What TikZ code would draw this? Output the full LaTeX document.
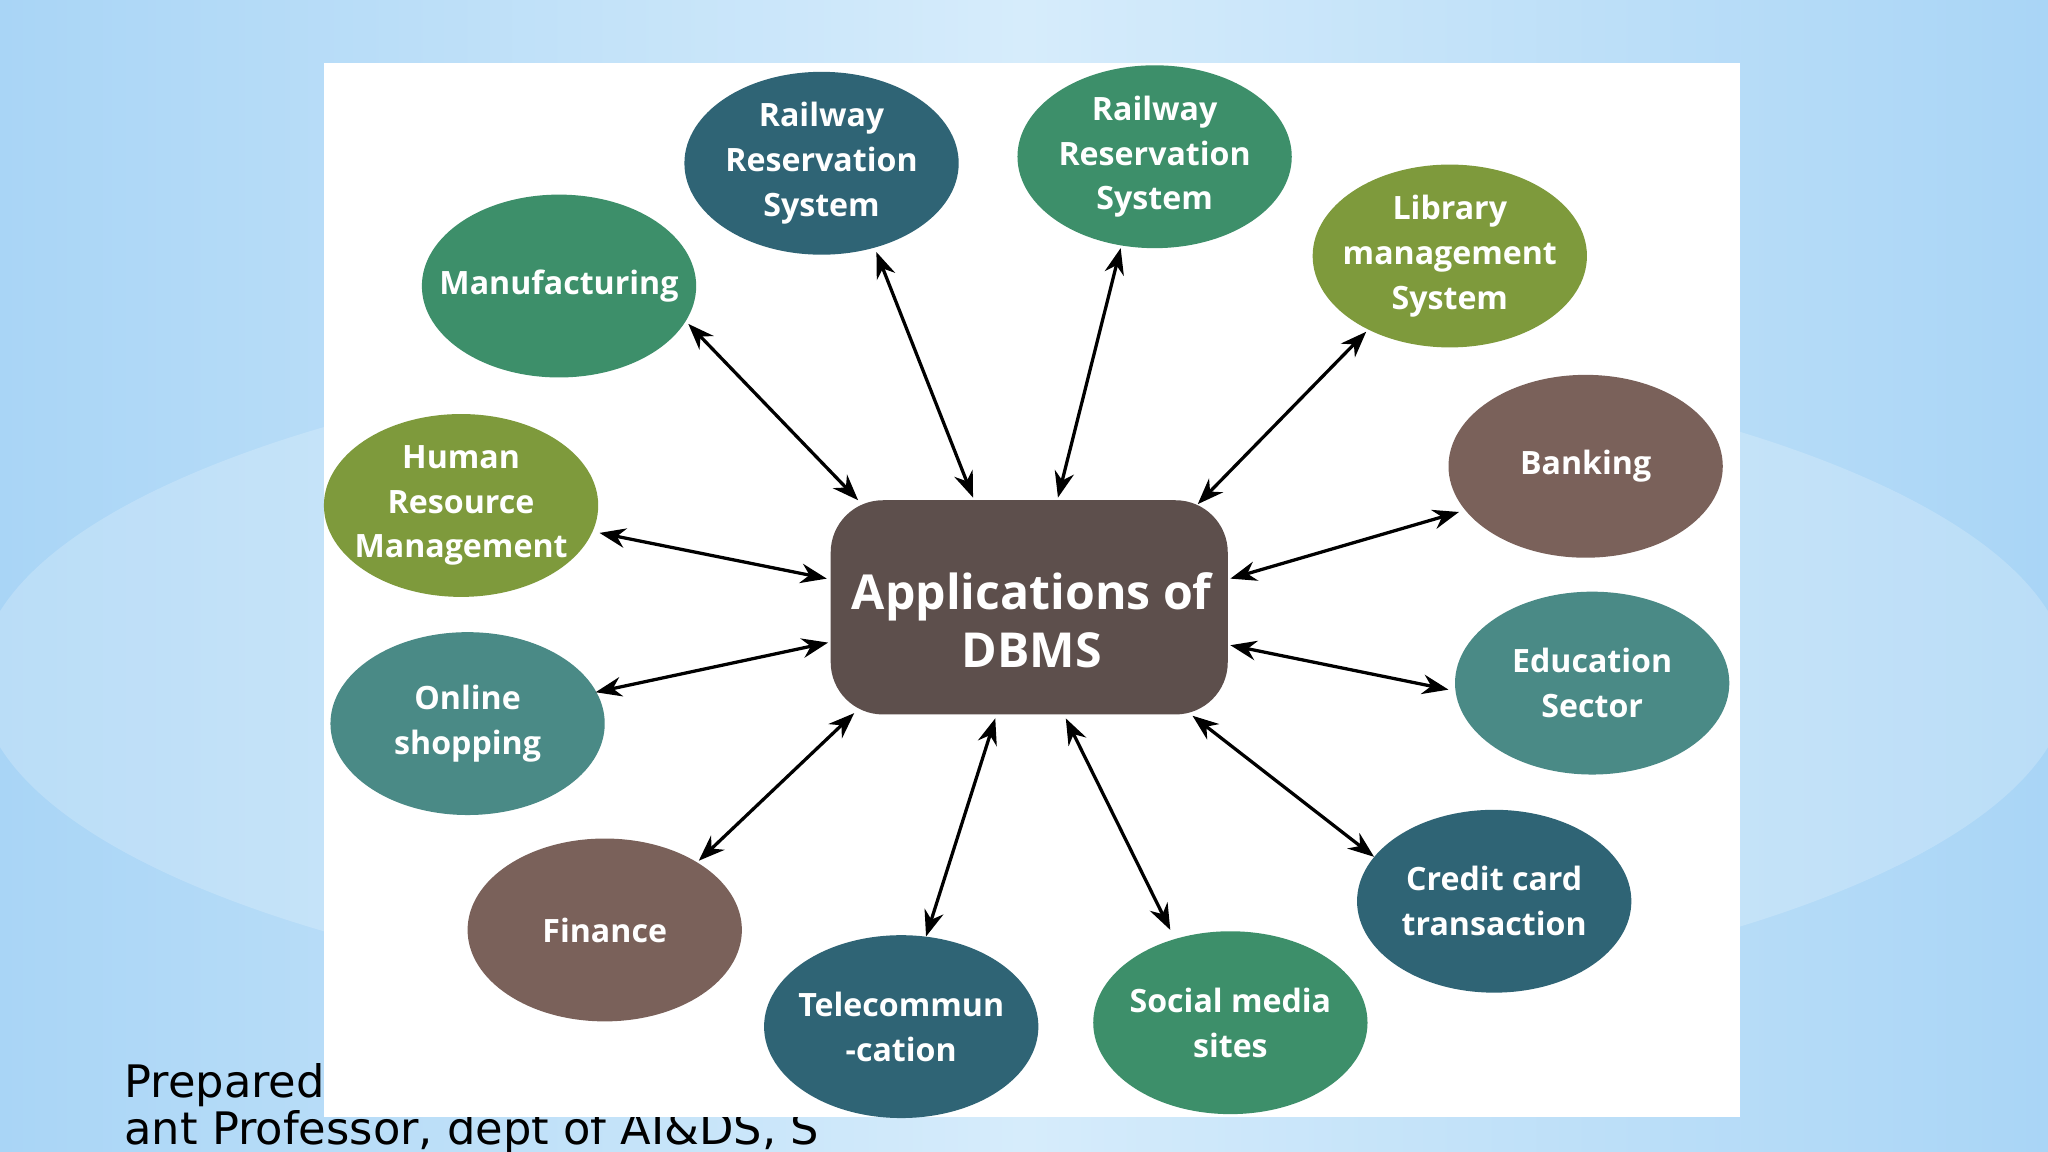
\documentclass[tikz,border=0pt]{standalone}
\usepackage{fontspec}
\setmainfont{Open Sans}
\newfontfamily\bottomfont{DejaVu Sans}
\usetikzlibrary{arrows.meta,shapes.geometric}
\definecolor{bgblue}{HTML}{A9D5F6}
\definecolor{bglight}{HTML}{D6ECFB}
\definecolor{dteal}{HTML}{2F6475}
\definecolor{dgreen}{HTML}{3D8F6A}
\definecolor{olive}{HTML}{7E9A3C}
\definecolor{brown}{HTML}{7A615A}
\definecolor{teal}{HTML}{4A8A86}
\definecolor{boxc}{HTML}{5D4F4C}
\tikzset{
  app/.style={ellipse, minimum width=42mm, minimum height=28mm, inner sep=-10mm,
    text=white, align=center, font=\fontsize{14}{19.5}\selectfont\bfseries},
  link/.style={{Stealth[length=4mm,width=3mm]}-{Stealth[length=4mm,width=3mm]}, line width=0.5mm, black}
}
\begin{document}
\begin{tikzpicture}[x=0.2mm,y=-0.2mm]
\useasboundingbox (0,0) rectangle (1568,882);
\shade[left color=bgblue, right color=bgblue, middle color=bglight] (0,0) rectangle (1568,882);
\fill[white, opacity=0.2] (784,520) ellipse [x radius=800, y radius=260];
\node[anchor=base west, inner sep=0pt, font=\bottomfont\fontsize{19.5}{21}\selectfont] (prep) at (95,840) {Prepared};
\node[anchor=base west, inner sep=0pt, font=\bottomfont\fontsize{19.5}{21}\selectfont] (prof) at (95,876) {ant Professor, dept of AI\&DS, S};
\fill[white] (248,48) rectangle (1332,855);
\node[fill=boxc, rounded corners=8mm, minimum width=60.8mm, minimum height=32.8mm] (main) at (788,465) {};
\node[text=white, align=center, font=\fontsize{21}{25}\selectfont\bfseries] (mainlabel) at (790,475) {Applications of\\DBMS};
\node[app, fill=dteal] (rail1) at (629,125) {Railway\\Reservation\\System};
\node[app, fill=dgreen] (rail2) at (884,120) {Railway\\Reservation\\System};
\node[app, fill=olive] (lib) at (1110,196) {Library\\management\\System};
\node[app, fill=dgreen] (manu) at (428,219) {Manufacturing};
\node[app, fill=olive] (hr) at (353,387) {Human\\Resource\\Management};
\node[app, fill=brown] (bank) at (1214,357) {Banking};
\node[app, fill=teal] (online) at (358,554) {Online\\shopping};
\node[app, fill=teal] (edu) at (1219,523) {Education\\Sector};
\node[app, fill=brown] (fin) at (463,712) {Finance};
\node[app, fill=dteal] (credit) at (1144,690) {Credit card\\transaction};
\node[app, fill=dteal] (tele) at (690,786) {Telecommun\\-cation};
\node[app, fill=dgreen] (social) at (942,783) {Social media\\sites};
\foreach \n/\a/\b/\c/\d in {manu/527/248/657/383, rail1/671/193/745/381, rail2/858/190/810/381,
  lib/1046/254/917/386, hr/459/408/633/443, bank/1117/392/942/443, online/456/530/634/492,
  edu/1109/528/942/494, fin/535/659/654/546, credit/1052/656/913/548, tele/709/717/762/550,
  social/896/712/816/550}{
  \coordinate (\n-o) at (\a,\b);
  \coordinate (\n-i) at (\c,\d);
  \draw[link] (\n-o) -- (\n-i);
}
\end{tikzpicture}
\end{document}
